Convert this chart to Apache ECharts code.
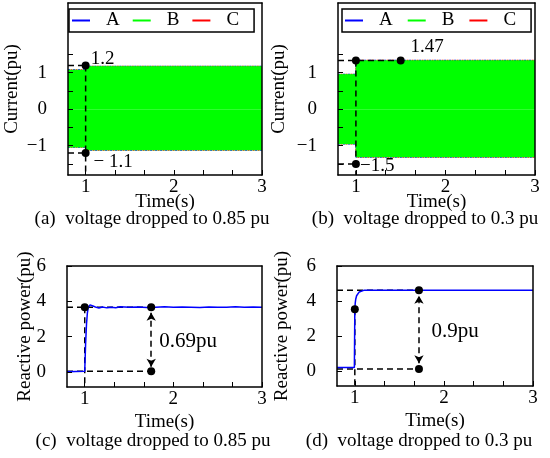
<!DOCTYPE html>
<html>
<head>
<meta charset="utf-8">
<title>Current and reactive power after voltage drop</title>
<script src="https://cdn.jsdelivr.net/npm/echarts@6/dist/echarts.min.js"></script>
<style>
html, body { margin: 0; padding: 0; background: #fff; }
#chart { width: 550px; height: 458px; }
</style>
</head>
<body>
<div id="chart"></div>
<script>
var FONT = '"Liberation Serif", "DejaVu Serif", serif';

// 坐标刻度
var xTicks = [1, 1.333, 1.667, 2, 2.333, 2.667, 3],
	xLabels = [1, 2, 3],
	curTicks = [-1.5, -1, -0.5, 0, 0.5, 1, 1.5],
	curLabels = [-1, 0, 1],
	qTicks = [0, 2, 4, 6],
	qLabels = [0, 2, 4, 6];

// (a) 电流包络
var envTimeA = [0.8, 1.0, 1.0, 3.0],
	envUpA = [1.07, 1.07, 1.17, 1.17],
	envLowA = [-1.04, -1.04, -1.12, -1.12];

// (b) 电流包络
var envTimeB = [0.8, 1.0, 1.0, 3.0],
	envUpB = [0.95, 0.95, 1.33, 1.33],
	envLowB = [-0.95, -0.95, -1.31, -1.31];

// (c) 无功功率
var timeC = [0.8, 0.9, 1.0, 1.01, 1.02, 1.03, 1.04, 1.06, 1.08, 1.1, 1.13, 1.16, 1.2, 1.25, 1.3, 1.35, 1.4, 1.5, 1.6, 1.7, 1.8, 1.9, 2.0, 2.1, 2.2, 2.3, 2.4, 2.5, 2.6, 2.7, 2.8, 2.9, 3.0],
	qC = [0.02, 0.03, 0.04, 1.6, 2.7, 3.35, 3.65, 3.8, 3.78, 3.72, 3.66, 3.62, 3.68, 3.63, 3.67, 3.64, 3.69, 3.66, 3.68, 3.65, 3.67, 3.69, 3.66, 3.68, 3.67, 3.65, 3.68, 3.66, 3.67, 3.69, 3.66, 3.68, 3.67];

// (d) 无功功率
var timeD = [0.8, 0.995, 1.0, 1.005, 1.01, 1.02, 1.03, 1.05, 1.07, 1.1, 1.2, 3.0],
	qD = [0.2, 0.2, 3.5, 3.9, 4.1, 4.3, 4.4, 4.52, 4.58, 4.61, 4.62, 4.62];

// 标注: 虚线、圆点、文字、箭头
var guidesA = [[[0.8, 1.19], [1.0, 1.19]], [[0.8, -1.2], [1.0, -1.2]], [[1.0, 1.19], [1.0, -1.8]]],
	dotsA = [[1.0, 1.19], [1.0, -1.2]],
	notesA = [[1.057, 1.36, '1.2'], [1.09, -1.44, '\u2212 1.1']];

var guidesB = [[[0.8, 1.33], [1.5, 1.33]], [[0.8, -1.5], [1.0, -1.5]], [[1.0, 1.33], [1.0, -1.8]]],
	dotsB = [[1.0, 1.33], [1.5, 1.33], [1.0, -1.5]],
	notesB = [[1.61, 1.69, '1.47'], [1.045, -1.56, '\u22121.5']];

var guidesC = [[[0.8, 3.66], [1.75, 3.66]], [[0.8, 0.04], [1.75, 0.04]], [[1.0, 3.66], [1.0, -0.85]]],
	dotsC = [[1.0, 3.66], [1.75, 3.66], [1.75, 0.04]],
	notesC = [[1.84, 1.7, '0.69pu']],
	arrowC = [[1.75, 0.3], [1.75, 3.35]];

var guidesD = [[[0.8, 4.62], [1.72, 4.62]], [[0.8, 0.12], [1.72, 0.12]], [[1.0, 3.53], [1.0, -0.85]]],
	dotsD = [[1.0, 3.53], [1.72, 4.62], [1.72, 0.12]],
	notesD = [[1.86, 2.27, '0.9pu']],
	arrowD = [[1.72, 0.45], [1.72, 4.3]];

var captions = [
	['(a)  voltage dropped to 0.85 pu', 152, 210],
	['(b)  voltage dropped to 0.3 pu', 425, 210],
	['(c)  voltage dropped to 0.85 pu', 153, 432],
	['(d)  voltage dropped to 0.3 pu', 419, 432]
];

function pairs(xs, ys) {
	return xs.map(function(x, i){ return [x, ys[i]]; });
}

function minus(v) {
	return v < 0 ? '\u2212' + (-v) : String(v);
}

var nameStyle = {
	fontFamily: FONT, fontSize: 19, fontWeight: 'normal', color: '#000',
	textBorderWidth: 0, textShadowBlur: 0
};

function makeX(idx, gap) {
	return {
		type: 'value', gridIndex: idx, min: 0.8, max: 3, z: 10,
		name: 'Time(s)', nameLocation: 'middle', nameGap: gap, nameMoveOverlap: false,
		nameTextStyle: nameStyle,
		axisLine: { onZero: false, lineStyle: { color: '#000', width: 1.5 } },
		axisTick: { inside: true, length: 5, customValues: xTicks, lineStyle: { color: '#000', width: 1 } },
		axisLabel: { customValues: xLabels, margin: 3, fontFamily: FONT, fontSize: 19, color: '#000' },
		splitLine: { show: false }
	};
}

function makeY(idx, min, max, ticks, labels, name, gap, shift) {
	return {
		type: 'value', gridIndex: idx, min: min, max: max, z: 10,
		name: name, nameLocation: 'middle', nameGap: gap, nameMoveOverlap: false,
		nameTextStyle: nameStyle,
		axisLine: { onZero: false, lineStyle: { color: '#000', width: 1.5 } },
		axisTick: { inside: true, length: 5, customValues: ticks, lineStyle: { color: '#000', width: 1 } },
		axisLabel: {
			customValues: labels, margin: 21, fontFamily: FONT, fontSize: 19, color: '#000',
			padding: [shift, 0, 0, 0], formatter: minus
		},
		splitLine: { show: false }
	};
}

// 上边框和右边框
function frame(idx, pos) {
	return {
		type: 'value', gridIndex: idx, position: pos, min: 0, max: 1, z: 10,
		axisLine: { onZero: false, lineStyle: { color: '#000', width: 1.5 } },
		axisTick: { show: false }, axisLabel: { show: false }, splitLine: { show: false }
	};
}

function envSeries(idx, name, color, data, dash) {
	return {
		name: name, type: 'line', xAxisIndex: idx, yAxisIndex: idx,
		data: data, symbol: 'none', z: 1,
		itemStyle: { color: color },
		lineStyle: { color: color, width: 1.2, type: [2, 3], dashOffset: dash }
	};
}

function bandSeries(idx, data) {
	return {
		name: 'B', type: 'line', xAxisIndex: idx, yAxisIndex: idx,
		data: data, symbol: 'none', z: 2,
		itemStyle: { color: '#00ff00' },
		lineStyle: { color: '#00ff00', width: 0.5 },
		areaStyle: { color: '#00ff00', opacity: 1, origin: 0 }
	};
}

function qSeries(idx, data) {
	return {
		name: 'Q', type: 'line', xAxisIndex: idx, yAxisIndex: idx,
		data: data, symbol: 'none', z: 4,
		lineStyle: { color: '#0000ff', width: 1.5 }
	};
}

function marks(idx, guides, dots, notes, arrow, noteSize) {
	var list = guides.map(function(seg){
		return {
			type: 'line', xAxisIndex: idx, yAxisIndex: idx, data: seg,
			symbol: 'none', z: 3, silent: true,
			lineStyle: { color: '#000', width: 1.5, type: [6, 4] }
		};
	});
	list.push({
		type: 'scatter', xAxisIndex: idx, yAxisIndex: idx, data: dots,
		symbolSize: 8, z: 6, silent: true,
		itemStyle: { color: '#000', opacity: 1 }
	});
	list.push({
		type: 'scatter', xAxisIndex: idx, yAxisIndex: idx, z: 6, silent: true,
		data: notes.map(function(n){ return { value: [n[0], n[1]], name: n[2] }; }),
		symbolSize: 0,
		itemStyle: { color: '#000', opacity: 1 },
		label: {
			show: true, position: 'right', distance: 0, formatter: '{b}',
			fontFamily: FONT, fontSize: noteSize, color: '#000', opacity: 1
		}
	});
	if(arrow){
		list.push({
			type: 'line', xAxisIndex: idx, yAxisIndex: idx, data: [], z: 5, silent: true,
			markLine: {
				silent: true, animation: false,
				symbol: ['arrow', 'arrow'], symbolSize: [7, 8],
				label: { show: false },
				lineStyle: { color: '#000', width: 1.5, type: [6, 4] },
				data: [[{ coord: arrow[0] }, { coord: arrow[1] }]]
			}
		});
	}
	return list;
}

function legendAt(left, gap) {
	return {
		left: left, top: 9, orient: 'horizontal',
		data: ['A', 'B', 'C'],
		icon: 'rect', itemWidth: 18, itemHeight: 2, itemGap: gap,
		padding: [2, 15, 2, 3],
		borderColor: '#000', borderWidth: 1.5, backgroundColor: '#fff',
		selectedMode: false, z: 8,
		textStyle: { fontFamily: FONT, fontSize: 19, color: '#000', padding: [0, 0, 0, 11] }
	};
}

var chart = echarts.init(document.getElementById('chart'), null, { renderer: 'canvas' });

var series = [];
series.push(envSeries(0, 'A', '#0000ff', pairs(envTimeA, envUpA), 0));
series.push(envSeries(0, 'A', '#0000ff', pairs(envTimeA, envLowA), 0));
series.push(envSeries(0, 'C', '#ff0000', pairs(envTimeA, envUpA), 2.5));
series.push(envSeries(0, 'C', '#ff0000', pairs(envTimeA, envLowA), 2.5));
series.push(bandSeries(0, pairs(envTimeA, envUpA)));
series.push(bandSeries(0, pairs(envTimeA, envLowA)));
series.push(envSeries(1, 'A', '#0000ff', pairs(envTimeB, envUpB), 0));
series.push(envSeries(1, 'A', '#0000ff', pairs(envTimeB, envLowB), 0));
series.push(envSeries(1, 'C', '#ff0000', pairs(envTimeB, envUpB), 2.5));
series.push(envSeries(1, 'C', '#ff0000', pairs(envTimeB, envLowB), 2.5));
series.push(bandSeries(1, pairs(envTimeB, envUpB)));
series.push(bandSeries(1, pairs(envTimeB, envLowB)));
series.push(qSeries(2, pairs(timeC, qC)));
series.push(qSeries(3, pairs(timeD, qD)));
series = series
	.concat(marks(0, guidesA, dotsA, notesA, null, 19))
	.concat(marks(1, guidesB, dotsB, notesB, null, 19))
	.concat(marks(2, guidesC, dotsC, notesC, arrowC, 21))
	.concat(marks(3, guidesD, dotsD, notesD, arrowD, 21));

var option = {
	animation: false,
	backgroundColor: '#fff',
	title: captions.map(function(c){
		return {
			text: c[0], left: c[1], top: c[2], textAlign: 'center', padding: 0,
			textStyle: { fontFamily: FONT, fontSize: 19, fontWeight: 'normal', color: '#000' }
		};
	}),
	legend: [legendAt(69, 13), legendAt(342, 15)],
	grid: [
		{ left: 68, top: 3, width: 194, height: 172 },
		{ left: 338, top: 3, width: 197, height: 172 },
		{ left: 67, top: 266, width: 195, height: 121 },
		{ left: 337, top: 266, width: 196, height: 120 }
	],
	xAxis: [
		makeX(0, 18), makeX(1, 18), makeX(2, 26), makeX(3, 26),
		frame(0, 'top'), frame(1, 'top'), frame(2, 'top'), frame(3, 'top')
	],
	yAxis: [
		makeY(0, -1.8, 2.9, curTicks, curLabels, 'Current(pu)', 46, 2),
		makeY(1, -1.8, 2.9, curTicks, curLabels, 'Current(pu)', 49, 2),
		makeY(2, -0.85, 6, qTicks, qLabels, 'Reactive power(pu)', 32, 6),
		makeY(3, -0.85, 6, qTicks, qLabels, 'Reactive power(pu)', 45, 6),
		frame(0, 'right'), frame(1, 'right'), frame(2, 'right'), frame(3, 'right')
	],
	series: series
};

chart.setOption(option);
</script>
</body>
</html>
